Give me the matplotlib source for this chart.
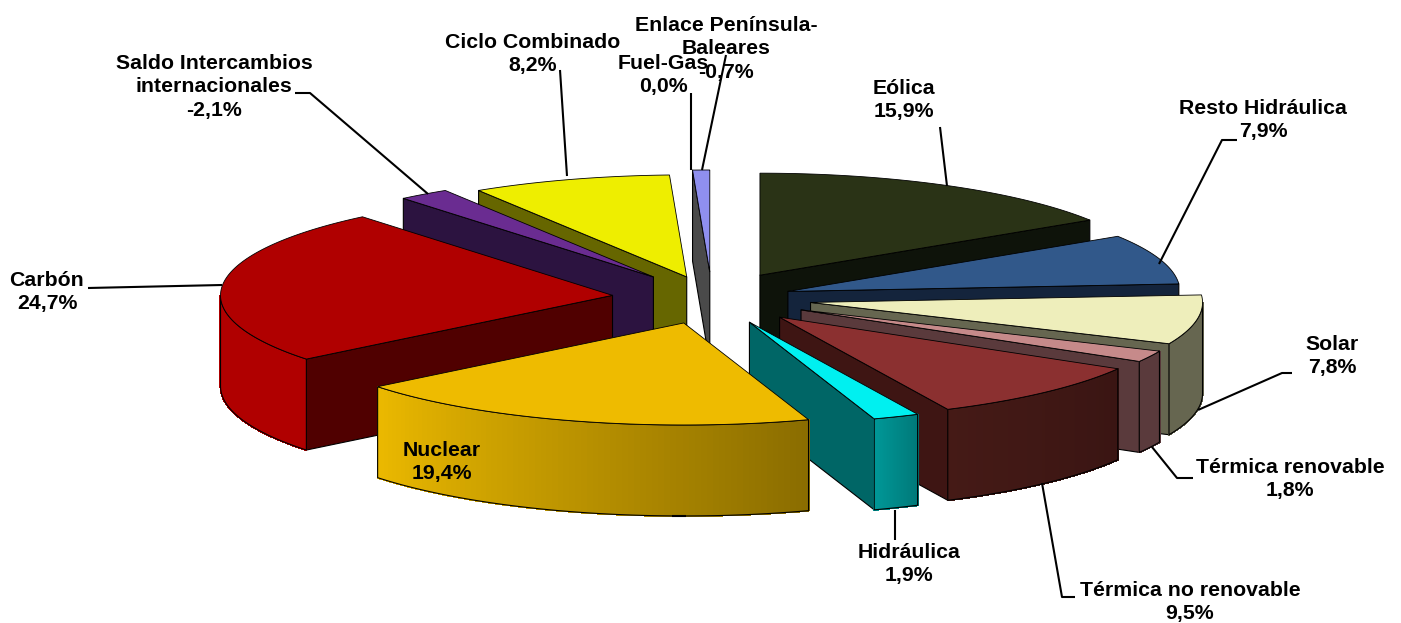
import numpy as np
from matplotlib import pyplot as plt
from matplotlib.colors import to_rgb
from matplotlib.patches import Polygon

categories = ["Eólica", "Resto Hidráulica", "Solar", "Térmica renovable", "Térmica no renovable",
              "Hidráulica", "Nuclear", "Carbón", "Saldo Intercambios\ninternacionales",
              "Ciclo Combinado", "Fuel-Gas", "Enlace Península-\nBaleares"]
values = [15.9, 7.9, 7.8, 1.8, 9.5, 1.9, 19.4, 24.7, -2.1, 8.2, 0.0, -0.7]

# explode distance of each slice, in pixels
explode = [100, 80, 100, 100, 100, 100, 100, 100, 100, 85, 100, 100]

top_colors = ["#2a3316", "#31588a", "#eeeebb", "#c68a8a", "#8b3030", "#00f0f0",
              "#eebb00", "#b00000", "#6a2c91", "#eeee00", "#808080", "#8f8fef"]
side_colors = ["#0e130a", "#14243c", "#666650", "#5a3a3c", "#3e1513", "#006666",
               "#8b6d00", "#500000", "#2c1340", "#666600", "#404040", "#4a4a4a"]
# outer wall gradient, left colour to right colour
outer_left = ["#0e130a", "#14243c", "#666650", "#5a3a3c", "#451a16", "#009898",
              "#ebb900", "#b00000", "#2c1340", "#666600", "#404040", "#4a4a4a"]
outer_right = ["#0e130a", "#14243c", "#666650", "#5a3a3c", "#3a1513", "#007a7a",
               "#8b6d00", "#b00000", "#2c1340", "#666600", "#404040", "#4a4a4a"]

# back to front
draw_order = [11, 9, 8, 7, 0, 1, 2, 3, 4, 5, 6]

label_pos = [(904, 100), (1263, 120), (1332, 356), (1290, 479), (1190, 602), (909, 564),
             (442, 462), (47, 292), (214, 87), (533, 54), (663, 75), (726, 49)]
leaders = [
    [(940, 127), (947, 186)],
    [(1237, 140), (1222, 140), (1159, 264)],
    [(1292, 373), (1282, 373), (1198, 410)],
    [(1193, 478), (1177, 478), (1152, 447)],
    [(1075, 597), (1062, 597), (1042, 483)],
    [(895, 540), (895, 510)],
    [(672, 516), (686, 516)],
    [(88, 288), (222, 285)],
    [(295, 93), (310, 93), (428, 194)],
    [(560, 70), (567, 176)],
    [(691, 93), (691, 170)],
    [(726, 55), (702, 170)],
]

cx, cy = 712, 298
rx, ry = 392, 102
depth = 91


def project(theta, r):
    return r * np.sin(theta) * rx, -r * np.cos(theta) * ry


fractions = np.abs(values) / np.sum(np.abs(values))
edges = np.concatenate([[0], np.cumsum(fractions)]) * 2 * np.pi

fig = plt.figure(figsize=(14.01, 6.23), dpi=100)
ax = fig.add_axes([0, 0, 1, 1])
ax.set_xlim(0, 1401)
ax.set_ylim(623, 0)
ax.axis("off")

for i in draw_order:
    t0, t1 = edges[i], edges[i + 1]
    mid = (t0 + t1) / 2
    ax0 = cx + explode[i] * np.sin(mid)
    ay0 = cy - explode[i] * np.cos(mid) * ry / rx
    ts = np.linspace(t0, t1, 80)
    ox, oy = project(ts, 1)
    ox, oy = ox + ax0, oy + ay0

    # radial walls
    for k, t in ((0, t0), (-1, t1)):
        visible = np.sin(t) < 0 if k == 0 else np.sin(t) > 0
        if visible:
            wall = [(ax0, ay0), (ox[k], oy[k]), (ox[k], oy[k] + depth), (ax0, ay0 + depth)]
            ax.add_patch(Polygon(wall, fc=side_colors[i], ec="black", lw=0.8, joinstyle="round"))

    # outer wall, strips for the gradient
    front = np.cos(ts) < 0
    if front.any():
        fx, fy = ox[front], oy[front]
        left, right = np.array(to_rgb(outer_left[i])), np.array(to_rgb(outer_right[i]))
        order = np.argsort(fx)
        fx, fy = fx[order], fy[order]
        for j in range(len(fx) - 1):
            u = j / max(len(fx) - 2, 1)
            c = left + (right - left) * u
            strip = [(fx[j], fy[j]), (fx[j + 1], fy[j + 1]),
                     (fx[j + 1], fy[j + 1] + depth), (fx[j], fy[j] + depth)]
            ax.add_patch(Polygon(strip, fc=c, ec=c, lw=0.8, antialiased=False))
        outline = list(zip(fx, fy)) + list(zip(fx[::-1], fy[::-1] + depth))
        ax.add_patch(Polygon(outline, fc="none", ec="black", lw=0.8))

    # top face
    top = [(ax0, ay0)] + list(zip(ox, oy))
    ax.add_patch(Polygon(top, fc=top_colors[i], ec="black", lw=0.6))

for pts in leaders:
    xs, ys = zip(*pts)
    ax.plot(xs, ys, color="black", lw=1.5, solid_capstyle="butt")

for name, val, pos in zip(categories, values, label_pos):
    txt = name + "\n" + f"{val:.1f}".replace(".", ",") + "%"
    ax.text(pos[0], pos[1], txt, ha="center", va="center", fontsize=15.3,
            fontweight="bold", family="Liberation Sans", linespacing=1.28, color="black")

fig.savefig("out.png", dpi=100)
